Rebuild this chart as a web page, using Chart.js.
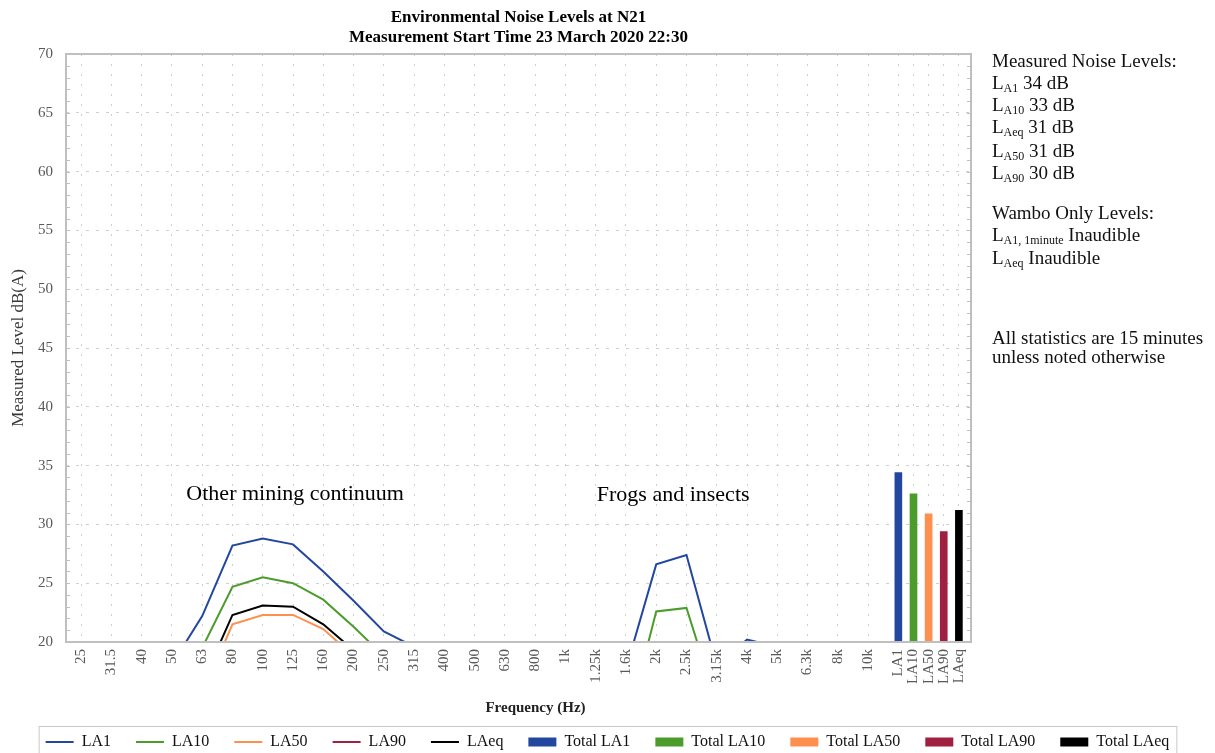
<!DOCTYPE html>
<html>
<head>
<meta charset="utf-8">
<script src="https://cdn.jsdelivr.net/npm/chart.js@4.4.1/dist/chart.umd.min.js"></script>
<style>
    html, body { margin: 0; padding: 0; background: #fff; }
    #wrap { position: relative; width: 1215px; height: 753px; overflow: hidden; font-family: "Liberation Serif", serif; color: #111; }
    #chart { position: absolute; left: 0; top: 0; }
    .side { position: absolute; left: 992px; font-size: 19px; line-height: 22px; white-space: nowrap; }
    .side sub { font-size: 12px; vertical-align: -3px; line-height: 0; }
</style>
</head>
<body>
<div id="wrap">
    <canvas id="chart" width="1215" height="753"></canvas>
    <div class="side" style="top:50px">Measured Noise Levels:</div>
    <div class="side" style="top:72px">L<sub>A1</sub> 34 dB</div>
    <div class="side" style="top:94px">L<sub>A10</sub> 33 dB</div>
    <div class="side" style="top:116px">L<sub>Aeq</sub> 31 dB</div>
    <div class="side" style="top:140px">L<sub>A50</sub> 31 dB</div>
    <div class="side" style="top:162px">L<sub>A90</sub> 30 dB</div>
    <div class="side" style="top:202px">Wambo Only Levels:</div>
    <div class="side" style="top:224px">L<sub>A1, 1minute</sub> Inaudible</div>
    <div class="side" style="top:247px">L<sub>Aeq</sub> Inaudible</div>
    <div class="side" style="top:327px">All statistics are 15 minutes</div>
    <div class="side" style="top:346px">unless noted otherwise</div>
</div>
<script>
// Third-octave bands (Hz)
const freqBands = ['25', '31.5', '40', '50', '63', '80', '100', '125', '160', '200', '250', '315', '400',
    '500', '630', '800', '1k', '1.25k', '1.6k', '2k', '2.5k', '3.15k', '4k', '5k', '6.3k', '8k', '10k'];
const statLabels = ['LA1', 'LA10', 'LA50', 'LA90', 'LAeq'];

// Spectra, dB(A) - anything under 20 falls below the axis
const la1  = [12.5, 14.0, 15.5, 18.1, 22.2, 28.2, 28.8, 28.3, 26.0, 23.5, 20.9, 19.6, 17.5, 16.0, 15.0, 14.5, 14.0, 14.5, 17.7, 26.6, 27.4, 18.0, 20.2, 19.6, 17.5, 15.0, 12.0];
const la10 = [10.5, 12.0, 13.5, 15.5, 19.5, 24.7, 25.5, 25.0, 23.6, 21.3, 18.8, 17.0, 15.0, 13.5, 12.5, 12.0, 11.5, 11.0, 12.5, 22.6, 22.9, 14.7, 15.5, 14.0, 12.5, 11.0, 9.5];
const la50 = [8.0, 9.5, 11.0, 13.0, 15.6, 21.5, 22.3, 22.3, 21.1, 18.8, 16.0, 14.0, 12.0, 10.5, 9.5, 9.0, 8.5, 8.0, 8.0, 9.0, 9.5, 8.5, 8.0, 7.5, 7.0, 6.5, 6.0];
const la90 = [6.5, 8.0, 9.5, 11.5, 14.0, 18.0, 19.0, 19.0, 18.0, 16.5, 14.0, 12.0, 10.5, 9.0, 8.0, 7.5, 7.0, 6.5, 6.5, 7.0, 7.5, 7.0, 6.5, 6.0, 5.5, 5.0, 4.5];
const laeq = [9.5, 11.0, 12.5, 14.5, 16.5, 22.3, 23.1, 23.0, 21.5, 19.3, 17.0, 15.0, 13.5, 12.0, 11.0, 10.5, 10.0, 9.5, 10.0, 15.5, 16.0, 11.0, 10.5, 9.5, 9.0, 8.5, 8.0];

// Overall 15 minute levels
const totals = [34.4, 32.6, 30.9, 29.4, 31.2];

const seriesColors = ['#23479e', '#4b9c2b', '#ff8f4f', '#a0213f', '#000000'];

// x positions: one step per band, half steps for the total bars
const bandPos = freqBands.map((_, i) => i);
const statPos = statLabels.map((_, j) => freqBands.length + j * 0.5);
const tickPos = bandPos.concat(statPos);
const tickText = freqBands.concat(statLabels);

Chart.defaults.font.family = '"Liberation Serif", serif';

const spectra = [la1, la10, la50, la90, laeq];
const lineSets = spectra.map((vals, k) => ({
    type: 'line',
    label: statLabels[k],
    data: vals.map((v, i) => ({ x: bandPos[i], y: v })),
    borderColor: seriesColors[k],
    backgroundColor: seriesColors[k],
    borderWidth: 2,
    pointRadius: 0,
    pointStyle: 'line',
    tension: 0
}));
const barSets = totals.map((v, j) => ({
    type: 'bar',
    label: 'Total ' + statLabels[j],
    data: [{ x: statPos[j], y: v }],
    backgroundColor: seriesColors[j],
    borderColor: seriesColors[j],
    borderWidth: 0,
    barThickness: 7,
    grouped: false,
    pointStyle: 'rect'
}));

const extras = {
    id: 'extras',
    afterDraw(chart, args, opts) {
        const { ctx, chartArea: a, scales: { x, y } } = chart;
        ctx.save();

        // plot frame + small inward ticks
        ctx.strokeStyle = '#bfbfbf';
        ctx.lineWidth = 2;
        ctx.strokeRect(a.left, a.top, a.right - a.left, a.bottom - a.top);
        ctx.lineWidth = 1;
        ctx.beginPath();
        for (let v = y.min + 1; v < y.max; v++) {
            const py = Math.round(y.getPixelForValue(v)) + 0.5;
            ctx.moveTo(a.left, py); ctx.lineTo(a.left + 4, py);
            ctx.moveTo(a.right - 4, py); ctx.lineTo(a.right, py);
        }
        ctx.stroke();

        // title
        const cx = (a.left + a.right) / 2;
        ctx.fillStyle = '#000';
        ctx.textAlign = 'center';
        ctx.textBaseline = 'middle';
        ctx.font = 'bold 17px "Liberation Serif", serif';
        opts.title.forEach((t, i) => ctx.fillText(t, cx, 18 + i * 20));

        // x axis title, sits a little right of the plot centre
        ctx.fillStyle = '#222';
        ctx.font = 'bold 15px "Liberation Serif", serif';
        ctx.fillText(opts.xTitle, cx + 17, 708);

        // notes inside the plot
        ctx.fillStyle = '#000';
        ctx.font = '22px "Liberation Serif", serif';
        opts.notes.forEach(n => ctx.fillText(n.text, x.getPixelForValue(n.at), y.getPixelForValue(n.level)));

        // box round the legend
        const boxes = chart.legend.legendHitBoxes;
        if (boxes.length) {
            const l = Math.min(...boxes.map(b => b.left)) - 7;
            const r = Math.max(...boxes.map(b => b.left + b.width)) + 7;
            const t = boxes[0].top - 8;
            ctx.strokeStyle = '#c8c8c8';
            ctx.lineWidth = 1;
            ctx.strokeRect(l + 0.5, t + 0.5, r - l, chart.height - t + 5);
        }
        ctx.restore();
    }
};

new Chart(document.getElementById('chart'), {
    type: 'line',
    data: { datasets: lineSets.concat(barSets) },
    plugins: [extras],
    options: {
        responsive: false,
        animation: false,
        layout: { padding: { top: 54, bottom: -7, left: 0, right: 0 } },
        scales: {
            x: {
                type: 'linear',
                min: -0.5,
                max: 29.4,
                offset: false,
                afterBuildTicks: s => { s.ticks = tickPos.map(v => ({ value: v })); },
                afterFit: s => { s.height = 67; },
                ticks: {
                    autoSkip: false,
                    minRotation: 90,
                    maxRotation: 90,
                    padding: 7,
                    color: '#595959',
                    font: { size: 15 },
                    callback: (v, i) => tickText[i]
                },
                grid: { color: '#cfcfcf', drawTicks: false, offset: false },
                border: { display: false, dash: [2, 8] },
                title: { display: false }
            },
            y: {
                min: 20,
                max: 70,
                afterFit: s => { s.width = 66; },
                ticks: { stepSize: 5, padding: 13, color: '#595959', font: { size: 15 } },
                grid: { color: '#cfcfcf', drawTicks: false },
                border: { display: false, dash: [3, 7] },
                title: {
                    display: true,
                    text: 'Measured Level dB(A)',
                    color: '#3a3a3a',
                    font: { size: 17 },
                    padding: { top: 8, bottom: 0 }
                }
            },
            side: {
                position: 'right',
                min: 20,
                max: 70,
                afterFit: s => { s.width = 244; },
                ticks: { display: false },
                grid: { display: false },
                border: { display: false }
            }
        },
        plugins: {
            legend: {
                position: 'bottom',
                labels: {
                    usePointStyle: true,
                    pointStyleWidth: 28,
                    boxHeight: 9,
                    padding: 25,
                    color: '#111',
                    font: { size: 16 }
                }
            },
            tooltip: { enabled: false },
            extras: {
                title: ['Environmental Noise Levels at N21', 'Measurement Start Time 23 March 2020 22:30'],
                xTitle: 'Frequency (Hz)',
                notes: [
                    { text: 'Other mining continuum', at: 7.07, level: 32.6 },
                    { text: 'Frogs and insects', at: 19.56, level: 32.5 }
                ]
            }
        }
    }
});
</script>
</body>
</html>
